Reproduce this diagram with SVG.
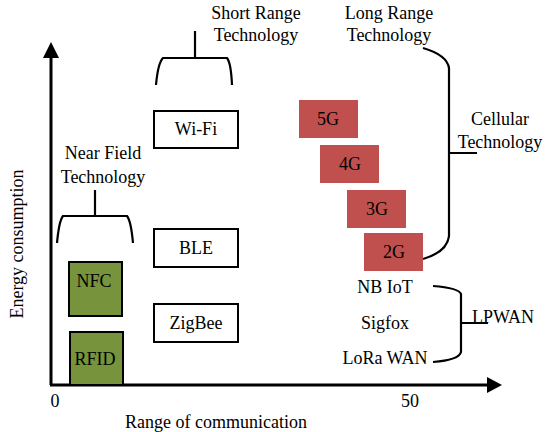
<svg xmlns="http://www.w3.org/2000/svg" width="545" height="432" viewBox="0 0 545 432">
<defs>
<style>
text{font-family:"Liberation Serif","Times New Roman",serif;font-size:18px;fill:#000;text-anchor:middle}
.box{fill:#fff;stroke:#000;stroke-width:2}
.grn{fill:#77933C;stroke:#000;stroke-width:2}
.red{fill:#C0504D;stroke:none}
.br{fill:none;stroke:#000;stroke-width:2.2}
.ax{fill:none;stroke:#000;stroke-width:3}
</style>
</defs>
<rect width="545" height="432" fill="#fff"/>
<g id="axes">
<line class="ax" x1="51" y1="385" x2="51" y2="55"/>
<polygon points="51,42 43,58 59,58" fill="#000"/>
<line class="ax" x1="50" y1="385" x2="489" y2="385"/>
<polygon points="502,385 487,377 487,393" fill="#000"/>
<text x="55" y="407">0</text>
<text x="410" y="407">50</text>
<text x="216" y="428">Range of communication</text>
<text transform="translate(23,244) rotate(-90)">Energy consumption</text>
</g>
<g id="connectors">
<path class="br" d="M195,31 V58 M156,85 Q158,63 163,58 H227 Q231,63 232,85"/>
<path class="br" d="M95,190 V216 M57,243 Q59,221 63,216 H127 Q131,221 133,243"/>
<path class="br" d="M423,48 Q447,55 449,68 V236 Q447,252 423,259 M449,153 H477"/>
<path class="br" d="M433,286 Q459,288 461,294 V352 Q459,360 433,362 M461,323 H488"/>
</g>
<g id="short-range"><text x="256" y="19">Short Range</text><text x="256" y="41">Technology</text></g>
<g id="long-range"><text x="389" y="19">Long Range</text><text x="389" y="41">Technology</text></g>
<g id="near-field"><text x="103" y="159">Near Field</text><text x="103" y="183">Technology</text></g>
<g id="cellular"><text x="500" y="125">Cellular</text><text x="500" y="148">Technology</text></g>
<g id="wifi"><rect class="box" x="154" y="111" width="84" height="37"/><text x="196" y="135">Wi-Fi</text></g>
<g id="ble"><rect class="box" x="154" y="229" width="84" height="38"/><text x="196" y="254">BLE</text></g>
<g id="zigbee"><rect class="box" x="154" y="304" width="84" height="38"/><text x="196" y="329">ZigBee</text></g>
<g id="nfc"><rect class="grn" x="69" y="262" width="53" height="54"/><text x="94" y="287">NFC</text></g>
<g id="rfid"><rect class="grn" x="70" y="332" width="53" height="53"/><text x="95" y="365">RFID</text></g>
<g id="g5"><rect class="red" x="299" y="100" width="59" height="38"/><text x="328" y="125">5G</text></g>
<g id="g4"><rect class="red" x="320" y="145" width="59" height="38"/><text x="350" y="170">4G</text></g>
<g id="g3"><rect class="red" x="347" y="190" width="59" height="38"/><text x="377" y="215">3G</text></g>
<g id="g2"><rect class="red" x="364" y="233" width="59" height="38"/><text x="394" y="258">2G</text></g>
<g id="nbiot"><text x="385" y="293">NB IoT</text></g>
<g id="sigfox"><text x="385" y="329">Sigfox</text></g>
<g id="lora"><text x="385" y="364">LoRa WAN</text></g>
<g id="lpwan"><text x="503" y="323">LPWAN</text></g>
</svg>
